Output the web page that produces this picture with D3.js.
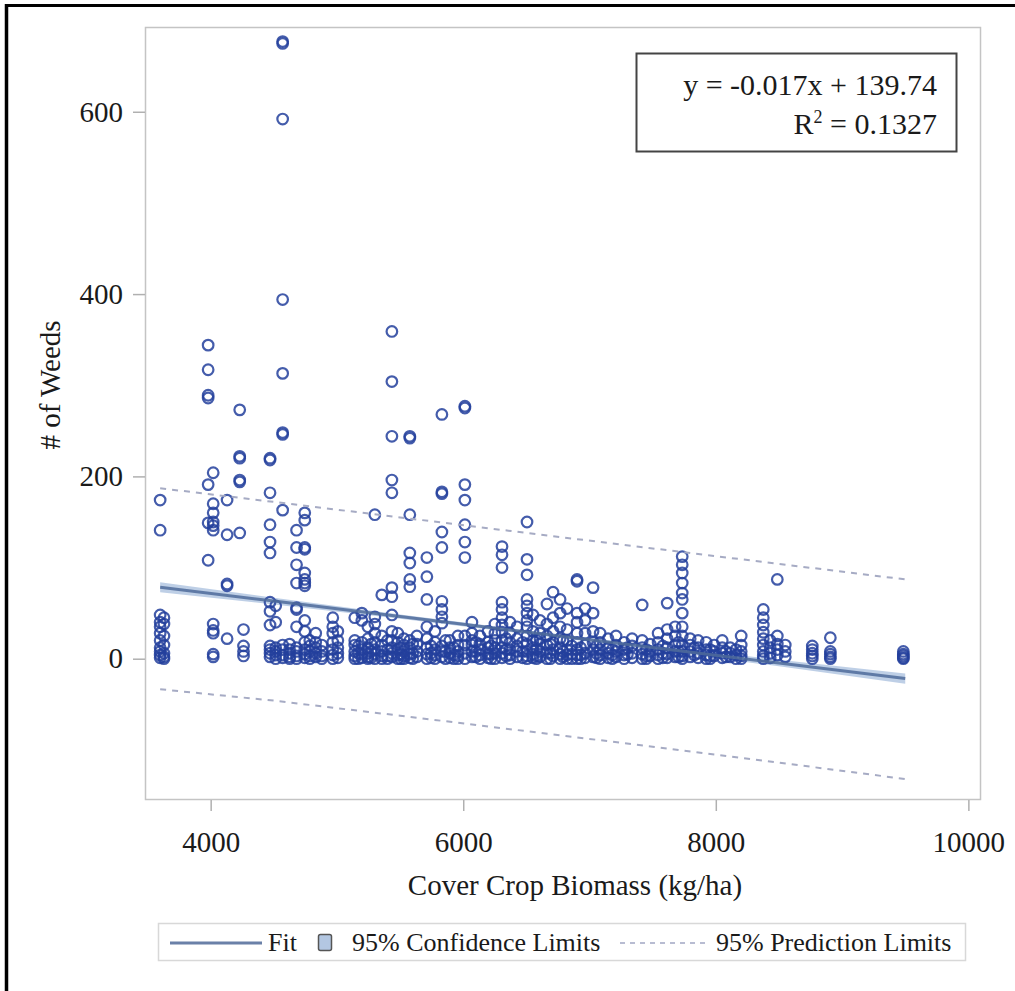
<!DOCTYPE html>
<html>
<head>
<meta charset="utf-8">
<script src="https://cdn.jsdelivr.net/npm/d3@7"></script>
<style>
  body { margin: 0; background: #fff; }
  svg text { font-family: "Liberation Serif", "Times New Roman", serif; fill: #1a1a1a; }
</style>
</head>
<body>
<div id="chart"></div>
<script>
// cover crop biomass (kg/ha) of each plot column, and # of weeds counted in it
var biomass = [3600, 3630, 3980, 4020, 4130, 4230, 4260, 4470, 4515, 4570, 4625, 4680, 4745, 4785, 4832, 4880,
	4967, 5007, 5141, 5170, 5197, 5245, 5270, 5300, 5355, 5400, 5435, 5482, 5505, 5530, 5577, 5600, 5633,
	5712, 5745, 5776, 5831, 5860, 5894, 5925, 5958, 6013, 6069, 6100, 6132, 6196, 6220, 6251, 6307, 6340,
	6370, 6426, 6470, 6505, 6552, 6580, 6608, 6663, 6690, 6711, 6767, 6790, 6822, 6860, 6901, 6930, 6965,
	7028, 7055, 7084, 7147, 7180, 7210, 7274, 7300, 7337, 7417, 7450, 7480, 7543, 7580, 7615, 7678, 7705,
	7734, 7797, 7830, 7860, 7924, 7955, 7987, 8051, 8080, 8114, 8160, 8201, 8376, 8431, 8487, 8550, 8764,
	8907, 9485];

var weeds = [
	[174, 141, 48, 40, 35, 28, 20, 12, 8, 4, 1],            // 3600
	[45, 38, 25, 15, 6, 2, 0],                              // 3630
	[344, 317, 289, 286, 191, 149, 108],                    // 3980
	[204, 170, 160, 150, 146, 141, 38, 31, 28, 5, 2],       // 4020
	[174, 136, 82, 80, 22],                                 // 4130
	[273, 222, 220, 196, 194, 138],                         // 4230
	[32, 14, 8, 3],                                         // 4260
	[220, 218, 182, 147, 128, 116, 62, 52, 37, 14, 10, 6, 2],
	[58, 40, 12, 8, 4, 0],
	[677, 675, 592, 394, 313, 248, 246, 163, 15, 10, 4, 1], // 4570
	[16, 10, 6, 2, 0],
	[141, 122, 103, 83, 56, 54, 35, 12, 8, 3, 0],
	[160, 152, 122, 120, 94, 87, 83, 80, 42, 30, 18, 10, 5, 1],
	[20, 14, 8, 3, 0],
	[28, 18, 12, 6, 2],
	[15, 8, 3, 0],
	[45, 35, 28, 18, 10, 4, 0],                             // 4967
	[30, 20, 12, 6, 1],
	[45, 20, 15, 8, 3, 0],
	[14, 6, 0],
	[50, 42, 18, 10, 5, 1],
	[35, 22, 12, 6, 2, 0],
	[16, 8, 1],
	[158, 46, 38, 28, 18, 10, 5, 0],                        // 5300
	[70, 25, 15, 8, 3, 0],
	[20, 10, 3, 0],
	[359, 304, 244, 196, 182, 78, 68, 48, 30, 20, 12, 6, 2],// 5435
	[28, 18, 10, 4, 0],
	[12, 5, 0],
	[22, 15, 8, 3, 0],
	[244, 242, 158, 116, 105, 87, 79, 20, 12, 5, 1],        // 5577
	[16, 6, 0],
	[25, 16, 8, 2],
	[111, 90, 65, 35, 22, 12, 5, 0],                        // 5712
	[14, 6, 1],
	[30, 18, 10, 4, 0],
	[268, 183, 181, 139, 122, 63, 54, 46, 39, 14, 8, 2],    // 5831
	[20, 8, 0],
	[20, 12, 6, 1],
	[12, 4, 0],
	[25, 15, 8, 3, 0],
	[277, 275, 191, 174, 147, 128, 111, 25, 15, 6, 0],      // 6013
	[40, 28, 20, 15, 8, 2],
	[18, 8, 2],
	[25, 16, 10, 4, 0],
	[30, 18, 12, 5, 1],
	[14, 5, 0],
	[38, 28, 20, 12, 6, 0],
	[123, 114, 100, 62, 54, 45, 37, 29, 20, 12, 6, 1],      // 6307
	[22, 10, 3],
	[40, 28, 18, 10, 4, 0],
	[35, 22, 14, 8, 2],
	[18, 8, 1],
	[150, 109, 92, 65, 58, 50, 42, 35, 25, 16, 8, 3, 0],    // 6505
	[48, 30, 20, 12, 5, 1],
	[20, 10, 3, 0],
	[42, 28, 22, 16, 8, 2],
	[60, 38, 25, 15, 6, 0],
	[16, 6, 0],
	[73, 45, 30, 18, 10, 3],
	[65, 50, 35, 22, 12, 5, 0],
	[20, 8, 2],
	[55, 32, 20, 10, 4, 0],
	[14, 5, 0],
	[87, 85, 50, 40, 28, 18, 10, 4, 0],                     // 6901
	[12, 4, 0],
	[55, 42, 28, 15, 6, 1],
	[78, 50, 30, 18, 10, 2],                                // 7028
	[14, 6, 1],
	[28, 18, 10, 4, 0],
	[22, 12, 6, 1],
	[10, 4, 0],
	[25, 15, 8, 2],
	[18, 10, 4, 0],
	[12, 5],
	[22, 14, 6, 1],
	[59, 20, 12, 5, 0],                                     // 7417
	[10, 3, 0],
	[16, 8, 3],
	[28, 18, 10, 4, 0],
	[14, 6, 1],
	[61, 32, 22, 12, 5, 1],
	[35, 25, 15, 8, 2],
	[18, 8, 2],
	[112, 103, 94, 83, 72, 65, 50, 35, 25, 15, 8, 3, 0],    // 7734
	[22, 15, 8, 2],
	[12, 4],
	[20, 12, 6, 1],
	[18, 10, 4, 0],
	[10, 3, 0],
	[15, 8, 3],
	[20, 12, 6, 1],
	[8, 2],
	[12, 6, 2],
	[10, 4, 0],
	[25, 15, 8, 3, 0],                                      // 8201
	[54, 45, 37, 29, 22, 15, 8, 3, 0],                      // 8376
	[20, 12, 6, 1],
	[87, 25, 16, 10, 4],
	[15, 8, 2],
	[14, 10, 6, 3, 0],
	[23, 8, 5, 2, 0],
	[8, 5, 3, 1, 0]                                         // 9485
];

// fit, 95% confidence and 95% prediction limits read at a few biomass values
var bandX  = [3600, 4500, 5500, 6500, 7500, 8500, 9500];
var fitY   = [78.5, 63.2, 46.2, 29.2, 12.2, -4.8, -21.8];
var clLow  = [73.0, 59.5, 43.8, 27.2, 10.0, -8.4, -27.5];
var clHigh = [84.0, 66.9, 48.6, 31.2, 14.4, -1.2, -16.1];
var plLow  = [-33.5, -46.0, -62.5, -79.5, -96.5, -114.0, -132.0];
var plHigh = [187.0, 172.0, 155.0, 138.0, 121.0, 104.0, 87.0];

var xTicks = [4000, 6000, 8000, 10000];
var yTicks = [0, 200, 400, 600];

var svg = d3.select('#chart')
	.append('svg')
	.attr('width', 1015)
	.attr('height', 991);

svg.append('rect')
	.attr('width', 1015)
	.attr('height', 991)
	.attr('fill', '#fff');

// black frame of the scanned figure (top and left only)
svg.append('line')
	.attr('x1', 5).attr('x2', 1015)
	.attr('y1', 5.5).attr('y2', 5.5)
	.attr('stroke', '#000').attr('stroke-width', 3);
svg.append('line')
	.attr('x1', 6.5).attr('x2', 6.5)
	.attr('y1', 4).attr('y2', 991)
	.attr('stroke', '#000').attr('stroke-width', 3.5);

var pLeft = 145, pRight = 981, pTop = 27, pBottom = 800;

var x = d3.scaleLinear()
	.domain([3480, 10100])
	.range([pLeft, pRight]);

var y = d3.scaleLinear()
	.domain([-155, 693])
	.range([pBottom, pTop]);

var plot = svg.append('g');

var bandRows = bandX.map(function(v, i) {
	return {x: v, fit: fitY[i], lo: clLow[i], hi: clHigh[i], plo: plLow[i], phi: plHigh[i]};
});

// confidence band
plot.append('path')
	.datum(bandRows)
	.attr('d', d3.area()
		.x(d => x(d.x))
		.y0(d => y(d.lo))
		.y1(d => y(d.hi)))
	.attr('fill', '#b3c7e2')
	.attr('opacity', 0.85);

// scatter
var points = [];
biomass.forEach(function(b, i) {
	weeds[i].forEach(function(w) {
		points.push({x: b, y: w});
	});
});

plot.selectAll('.pt')
	.data(points)
	.enter()
	.append('circle')
	.attr('class', 'pt')
	.attr('cx', d => x(d.x))
	.attr('cy', d => y(d.y))
	.attr('r', 5.3)
	.attr('fill', 'none')
	.attr('stroke', '#233f9c')
	.attr('stroke-opacity', 0.85)
	.attr('stroke-width', 2.2);

// fit line
plot.append('path')
	.datum(bandRows)
	.attr('d', d3.line().x(d => x(d.x)).y(d => y(d.fit)))
	.attr('fill', 'none')
	.attr('stroke', '#4f6b9a')
	.attr('stroke-width', 3)
	.attr('opacity', 0.85);

// prediction limits
['plo', 'phi'].forEach(function(k) {
	plot.append('path')
		.datum(bandRows)
		.attr('d', d3.line().x(d => x(d.x)).y(d => y(d[k])))
		.attr('fill', 'none')
		.attr('stroke', '#a6abc4')
		.attr('stroke-width', 2)
		.attr('stroke-dasharray', '6,6');
});

// plot frame
svg.append('rect')
	.attr('x', pLeft + 0.5)
	.attr('y', pTop + 0.5)
	.attr('width', pRight - pLeft - 1)
	.attr('height', pBottom - pTop - 1)
	.attr('fill', 'none')
	.attr('stroke', '#c4c4c4')
	.attr('stroke-width', 1.5);

// axes
var xAxis = svg.append('g')
	.attr('transform', 'translate(0,' + pBottom + ')')
	.call(d3.axisBottom(x).tickValues(xTicks).tickSize(11).tickPadding(20).tickFormat(d3.format('d')));
xAxis.select('.domain').remove();
xAxis.selectAll('line').attr('stroke', '#b0b0b0').attr('stroke-width', 1.5);
xAxis.selectAll('text')
	.attr('font-family', '"Liberation Serif", serif')
	.attr('font-size', 29)
	.attr('fill', '#1a1a1a');

var yAxis = svg.append('g')
	.attr('transform', 'translate(' + pLeft + ',0)')
	.call(d3.axisLeft(y).tickValues(yTicks).tickSize(12).tickPadding(10).tickFormat(d3.format('d')));
yAxis.select('.domain').remove();
yAxis.selectAll('line').attr('stroke', '#b0b0b0').attr('stroke-width', 1.5);
yAxis.selectAll('text')
	.attr('font-family', '"Liberation Serif", serif')
	.attr('font-size', 29)
	.attr('fill', '#1a1a1a');

svg.append('text')
	.attr('x', 575)
	.attr('y', 895)
	.attr('text-anchor', 'middle')
	.attr('font-size', 29)
	.text('Cover Crop Biomass (kg/ha)');

svg.append('text')
	.attr('transform', 'translate(60,385) rotate(-90)')
	.attr('text-anchor', 'middle')
	.attr('font-size', 29)
	.text('# of Weeds');

// regression annotation
svg.append('rect')
	.attr('x', 636.5).attr('y', 53.5)
	.attr('width', 320).attr('height', 98)
	.attr('fill', '#fff')
	.attr('stroke', '#444')
	.attr('stroke-width', 2);

svg.append('text')
	.attr('x', 937).attr('y', 95)
	.attr('text-anchor', 'end')
	.attr('font-size', 30)
	.text('y = -0.017x + 139.74');

var r2 = svg.append('text')
	.attr('x', 937).attr('y', 134)
	.attr('text-anchor', 'end')
	.attr('font-size', 30);
r2.append('tspan').text('R');
r2.append('tspan').attr('font-size', 18).attr('dy', -11).text('2');
r2.append('tspan').attr('dy', 11).text(' = 0.1327');

// legend
var lg = svg.append('g');
lg.append('rect')
	.attr('x', 158.5).attr('y', 923.5)
	.attr('width', 807).attr('height', 37)
	.attr('fill', '#fff')
	.attr('stroke', '#d8d8d8')
	.attr('stroke-width', 1.5);
lg.append('line')
	.attr('x1', 170).attr('x2', 262)
	.attr('y1', 943).attr('y2', 943)
	.attr('stroke', '#6a80a8').attr('stroke-width', 3);
lg.append('text')
	.attr('x', 268).attr('y', 951)
	.attr('font-size', 26)
	.text('Fit');
lg.append('rect')
	.attr('x', 318.5).attr('y', 934.5)
	.attr('width', 13).attr('height', 16)
	.attr('rx', 2)
	.attr('fill', '#b3c7e2')
	.attr('stroke', '#555')
	.attr('stroke-width', 1.5);
lg.append('text')
	.attr('x', 352).attr('y', 951)
	.attr('font-size', 26)
	.text('95% Confidence Limits');
lg.append('line')
	.attr('x1', 620).attr('x2', 708)
	.attr('y1', 943).attr('y2', 943)
	.attr('stroke', '#b8bcd2').attr('stroke-width', 2)
	.attr('stroke-dasharray', '5,5');
lg.append('text')
	.attr('x', 716).attr('y', 951)
	.attr('font-size', 26)
	.text('95% Prediction Limits');
</script>
</body>
</html>
